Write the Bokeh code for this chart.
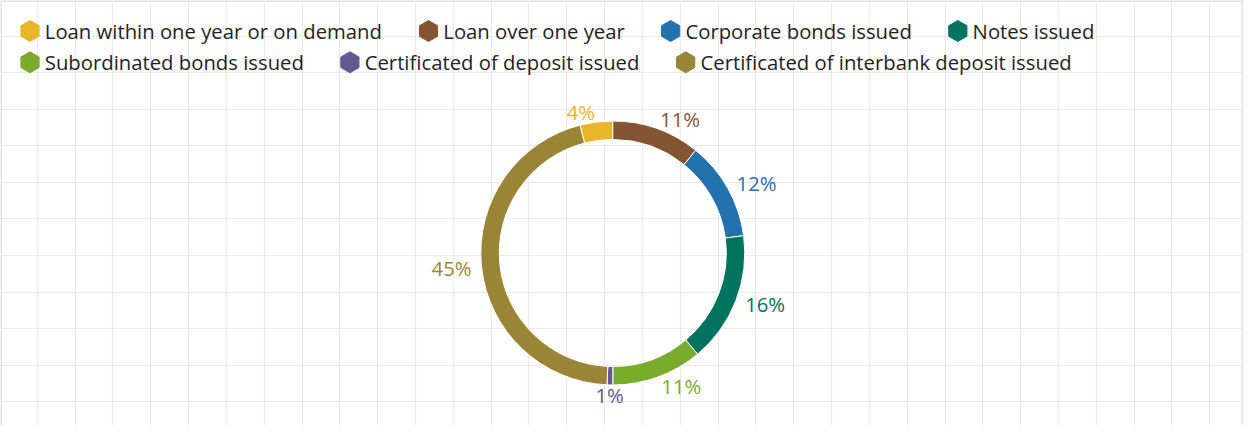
import math, glob, os
from bokeh.plotting import figure
from bokeh.models import ColumnDataSource, Range1d, FixedTicker, Grid, Span
from bokeh.core.properties import value
from bokeh.embed import file_html
from bokeh.resources import INLINE

# ---------------- data ----------------
categories = [
    "Loan within one year or on demand",
    "Loan over one year",
    "Corporate bonds issued",
    "Notes issued",
    "Subordinated bonds issued",
    "Certificated of deposit issued",
    "Certificated of interbank deposit issued",
]
shares = [4.0, 10.8, 12.1, 16.0, 11.1, 0.7, 45.3]
colors = ["#EBB52A", "#845433", "#2272B0", "#00745F", "#78AC2A", "#635894", "#9A8537"]
legend_rows = [[0, 1, 2, 3], [4, 5, 6]]

# ---------------- layout / style ----------------
W, H = 1243, 425
M = 8  # page margin
FONT = "Open Sans"
FSZ = 20.3
FS = f"{FSZ}px"


def find_font():
    pats = []
    for d in ["/usr/share/fonts", "/usr/local/share/fonts",
              os.path.expanduser("~/.fonts"), os.path.expanduser("~/.local/share/fonts")]:
        pats += glob.glob(os.path.join(d, "**", "OpenSans*.[ot]tf"), recursive=True)
    if not pats:
        return None
    def score(f):
        b = os.path.basename(f).lower()
        s = 0
        if "regular" in b:
            s -= 10
        if "[" in b or "variable" in b:
            s -= 5
        if any(k in b for k in ("italic", "bold", "light", "semi", "extra", "condensed", "medium")):
            s += 20
        return s
    return sorted(pats, key=score)[0]


def text_widths(texts):
    try:
        from PIL import ImageFont
        path = find_font()
        if path:
            f = ImageFont.truetype(path, FSZ)
            return [f.getlength(t) for t in texts]
    except Exception:
        pass
    return [0.53 * FSZ * len(t) for t in texts]


p = figure(width=W, height=H, output_backend="svg", toolbar_location=None,
           x_range=Range1d(M, M + W), y_range=Range1d(-(M + H), -M),
           x_axis_location=None, y_axis_location=None, min_border=0)
p.grid.visible = False
p.outline_line_color = None
p.background_fill_color = "white"

# background grid (page-pixel coordinates; data y = -page y)
GRID_C = "#e9e9e9"
xt = [7 + 37.82 * k for k in range(1, 33)]
yt = [-(7 + 36.57 * k) for k in range(1, 12)]
p.add_layout(Grid(dimension=0, ticker=FixedTicker(ticks=xt), grid_line_color=GRID_C, grid_line_width=1.2))
p.add_layout(Grid(dimension=1, ticker=FixedTicker(ticks=yt), grid_line_color=GRID_C, grid_line_width=1.2))
# panel border (left, top, right)
BORDER_C = "#e3e3e3"
p.add_layout(Span(location=M + 0.5, dimension="height", line_color=BORDER_C, line_width=2))
p.add_layout(Span(location=-(M + 0.5), dimension="width", line_color=BORDER_C, line_width=2))
p.add_layout(Span(location=M + W - 1, dimension="height", line_color=BORDER_C, line_width=2))

# donut
CX, CY = 620.3, -260.5
R_OUT, R_IN, R_LAB = 132, 113.5, 142
total = sum(shares)
fr = [s / total for s in shares]
cum = -fr[0]
a0, a1 = [], []
for f in fr:
    a0.append(cum)
    cum += f
    a1.append(cum)
start_angle = [math.pi / 2 - 2 * math.pi * b for b in a1]
end_angle = [math.pi / 2 - 2 * math.pi * a for a in a0]

src = ColumnDataSource(dict(start=start_angle, end=end_angle, color=colors))
p.annular_wedge(x=CX, y=CY, inner_radius=R_IN, outer_radius=R_OUT,
                start_angle="start", end_angle="end", fill_color="color",
                line_color="white", line_width=1, source=src)

lx, ly, la, lt = [], [], [], []
for s, a, b in zip(shares, a0, a1):
    th = math.pi / 2 - 2 * math.pi * (a + b) / 2
    c, sn = math.cos(th), math.sin(th)
    lx.append(CX + R_LAB * c)
    ly.append(CY + R_LAB * sn)
    la.append("left" if c > 0.1 else ("right" if c < -0.1 else "center"))
    lt.append(f"{round(s)}%")
lsrc = ColumnDataSource(dict(x=lx, y=ly, align=la, text=lt, color=colors))
p.text(x="x", y="y", text="text", text_align="align", text_baseline="middle",
       text_color="color", text_font=value(FONT), text_font_size=FS, source=lsrc)

# legend (flow layout, measured text widths)
widths = text_widths(categories)
X0 = 37.5          # first marker centre
ROW_Y = [38.5, 69.8]
TXT_OFF = 14.8     # marker centre -> text start
GAP = 46.0         # text end -> next marker centre
hx, hy, hc, tx, ty, tt = [], [], [], [], [], []
for row, yc in zip(legend_rows, ROW_Y):
    x = X0
    for i in row:
        hx.append(x); hy.append(-yc); hc.append(colors[i])
        tx.append(x + TXT_OFF); ty.append(-yc); tt.append(categories[i])
        x = x + TXT_OFF + widths[i] + GAP
p.scatter(x=hx, y=hy, marker="hex", size=21, angle=math.pi / 6,
          fill_color=hc, line_color=hc)
p.text(x=tx, y=ty, text=tt, text_align="left", text_baseline="middle",
       text_color="#231f20", text_font=value(FONT), text_font_size=FS)

open("out.html", "w").write(file_html(p, INLINE))
